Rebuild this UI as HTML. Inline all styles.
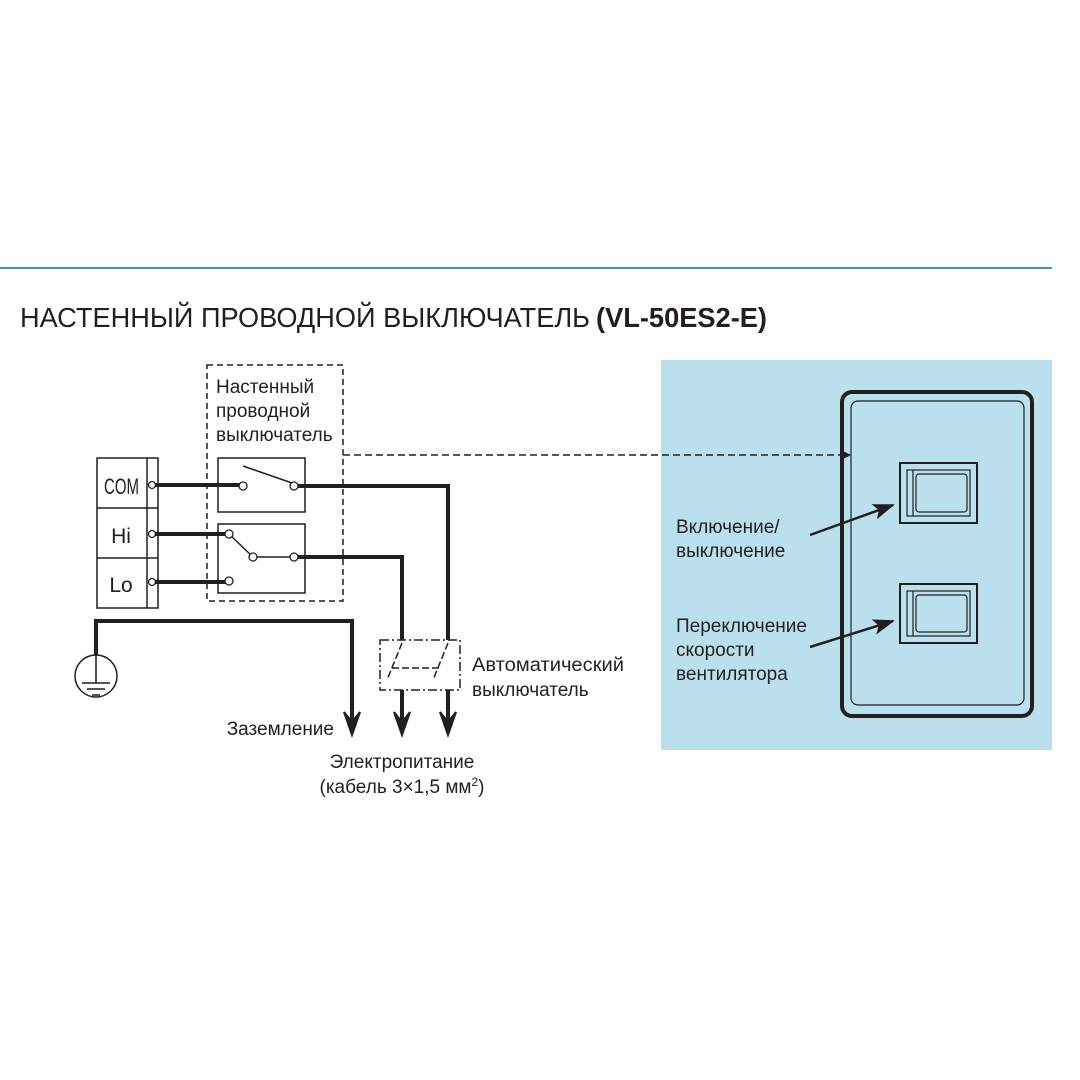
<!DOCTYPE html>
<html><head><meta charset="utf-8"><style>body{margin:0;background:#fff}svg{display:block}text{font-family:"Liberation Sans Narrow","Liberation Sans",sans-serif;fill:#231f20}</style></head><body>
<svg width="1080" height="1080" viewBox="0 0 1080 1080" xmlns="http://www.w3.org/2000/svg">
<defs><marker id="ah" markerWidth="10" markerHeight="10" refX="9" refY="5" orient="auto" markerUnits="userSpaceOnUse"><path d="M0,0 L10,5 L0,10 z" fill="#231f20"/></marker>
<marker id="ab" markerWidth="22" markerHeight="16" refX="20" refY="8" orient="auto" markerUnits="userSpaceOnUse"><path d="M0,0 L22,8 L0,16 L5,8 z" fill="#231f20"/></marker></defs>
<line x1="0" y1="268" x2="1052" y2="268" stroke="#3a9aa0" stroke-width="2"/>
<text x="20" y="327" font-size="28" textLength="570" lengthAdjust="spacingAndGlyphs">НАСТЕННЫЙ ПРОВОДНОЙ ВЫКЛЮЧАТЕЛЬ</text>
<text x="596" y="327" font-size="28" font-weight="bold" textLength="171" lengthAdjust="spacingAndGlyphs">(VL-50ES2-E)</text>
<rect x="661" y="360" width="391" height="390" fill="#b9e0ec"/>
<g fill="none" stroke="#231f20">
<rect x="97" y="458" width="61" height="150" stroke-width="1.5"/>
<line x1="147" y1="458" x2="147" y2="608" stroke-width="1.5"/>
<line x1="97" y1="508" x2="158" y2="508" stroke-width="1.5"/>
<line x1="97" y1="558" x2="158" y2="558" stroke-width="1.5"/>
<rect x="207" y="365" width="136" height="236" stroke-width="1.5" stroke-dasharray="6,4"/>
<rect x="218" y="458" width="87" height="54" stroke-width="1.5"/>
<rect x="218" y="524" width="87" height="69" stroke-width="1.5"/>
<line x1="243" y1="466" x2="292" y2="483" stroke-width="1.5"/>
<line x1="229" y1="534" x2="253" y2="557" stroke-width="1.5"/>
<line x1="253" y1="557" x2="294" y2="557" stroke-width="1.5"/>
<path d="M152,485 H243 M294,486 H448 V640 M152,534 H229 M152,582 H229 M294,557 H402 V640" stroke-width="4"/>
<path d="M402,690 V722 M448,690 V722 M96,655 V621 H352 V722" stroke-width="4"/>
<rect x="380" y="640" width="80" height="50" stroke-width="1.5" stroke-dasharray="9,3,2,3"/>
<path d="M402,643 L387,680 M448,643 L433,680 M392,668 H440" stroke-width="1.5" stroke-dasharray="7,3"/>
<circle cx="96" cy="676" r="21" stroke-width="1.5"/>
<path d="M96,655 V683 M82,683 H110 M87,689 H105 M92,695 H100" stroke-width="1.5"/>
<line x1="343" y1="455" x2="850" y2="455" stroke-width="1.5" stroke-dasharray="7,4" marker-end="url(#ah)"/>
<rect x="842" y="392" width="190" height="324" rx="10" stroke-width="4"/>
<rect x="851" y="401" width="173" height="304" rx="7" stroke-width="1.2"/>
<rect x="900" y="463" width="77" height="60" stroke-width="2"/>
<rect x="907" y="470" width="63" height="46" stroke-width="1.2"/>
<line x1="913" y1="470" x2="913" y2="516" stroke-width="1.2"/>
<rect x="916" y="474" width="51" height="38" rx="3" stroke-width="1.2"/>
<rect x="900" y="584" width="77" height="59" stroke-width="2"/>
<rect x="907" y="591" width="63" height="45" stroke-width="1.2"/>
<line x1="913" y1="591" x2="913" y2="636" stroke-width="1.2"/>
<rect x="916" y="595" width="51" height="37" rx="3" stroke-width="1.2"/>
<line x1="810" y1="535" x2="893" y2="505" stroke-width="2.5" marker-end="url(#ab)"/>
<line x1="810" y1="647" x2="893" y2="621" stroke-width="2.5" marker-end="url(#ab)"/>
</g>
<g fill="#fff" stroke="#231f20" stroke-width="1.3">
<circle cx="152" cy="485" r="3.5"/><circle cx="152" cy="534" r="3.5"/><circle cx="152" cy="582" r="3.5"/>
<circle cx="243" cy="486" r="4"/><circle cx="294" cy="486" r="4"/>
<circle cx="229" cy="534" r="4"/><circle cx="253" cy="557" r="4"/><circle cx="294" cy="557" r="4"/><circle cx="229" cy="581" r="4"/>
</g>
<path d="M402,722 L394,712 L402,735 L410,712 z M448,722 L440,712 L448,735 L456,712 z M352,722 L344,712 L352,735 L360,712 z" fill="#231f20" stroke="#231f20" stroke-width="2"/>
<g font-size="19">
<text x="104" y="494" font-size="22" textLength="35" lengthAdjust="spacingAndGlyphs">COM</text>
<text x="121" y="543" text-anchor="middle" font-size="21">Hi</text>
<text x="121" y="592" text-anchor="middle" font-size="21">Lo</text>
<text x="216" y="393">Настенный</text>
<text x="216" y="417">проводной</text>
<text x="216" y="441">выключатель</text>
<text x="472" y="671" textLength="152" lengthAdjust="spacingAndGlyphs">Автоматический</text>
<text x="472" y="696">выключатель</text>
<text x="334" y="735" text-anchor="end">Заземление</text>
<text x="402" y="768" text-anchor="middle">Электропитание</text>
<text x="402" y="793" text-anchor="middle">(кабель 3×1,5 мм<tspan font-size="12" dy="-7">2</tspan><tspan dy="7">)</tspan></text>
<text x="676" y="533">Включение/</text>
<text x="676" y="557">выключение</text>
<text x="676" y="632">Переключение</text>
<text x="676" y="656">скорости</text>
<text x="676" y="680">вентилятора</text>
</g>
</svg>
</body></html>
